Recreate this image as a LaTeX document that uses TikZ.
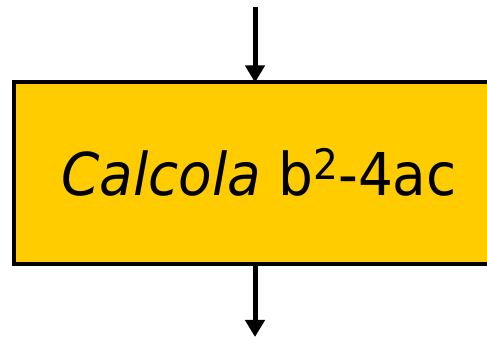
\documentclass[tikz,border=0pt]{standalone}
\usepackage{fontspec}
\setmainfont{DejaVu Sans}[FakeStretch=0.93]
\usetikzlibrary{arrows.meta}
\definecolor{boxgold}{RGB}{255,204,0}
\tikzset{
  flowline/.style={line width=5pt,-{Triangle[width=19pt,length=17pt]}},
  procbox/.style={draw=black,line width=4pt,fill=boxgold}
}
\begin{document}
\begin{tikzpicture}[x=1pt,y=1pt]
\useasboundingbox (0,0) rectangle (487,337);
\clip (0,0) rectangle (487,337);
% process block, running off the right edge
\draw[procbox] (14,72.5) rectangle (500,254.5);
\coordinate (boxtop) at (255,254.5);
\coordinate (boxbot) at (255,72.5);
\coordinate (src) at (255,330);
\coordinate (dst) at (255,0);
\node[anchor=base,inner sep=0pt,font=\fontsize{59}{61}\selectfont] (lbl) at (259,141)
  {\textit{Calcola} b\raisebox{16pt}{\fontsize{42}{44}\selectfont 2}-4ac};
\draw[flowline] (src) -- (boxtop);
\draw[flowline] (boxbot) -- (dst);
\end{tikzpicture}
\end{document}
